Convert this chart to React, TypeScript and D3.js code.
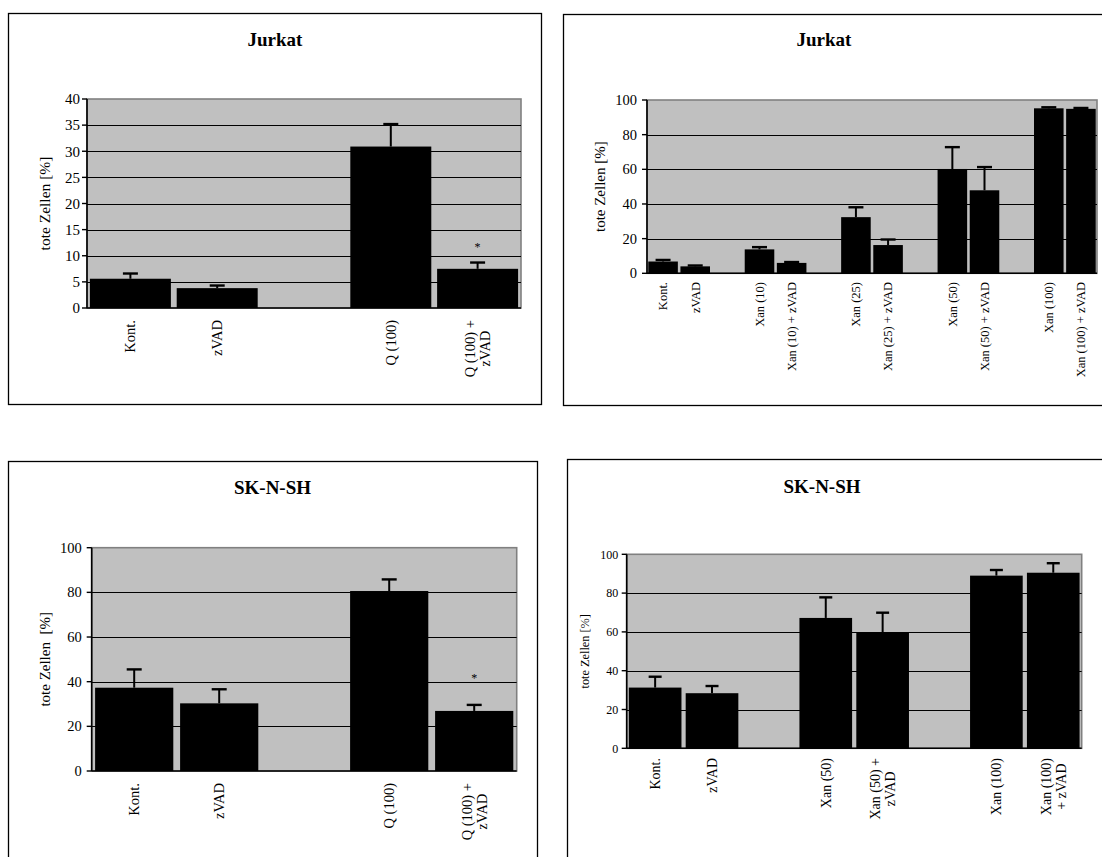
import React from 'react';
import * as d3 from 'd3';

const FONT = "'Liberation Serif', Tinos, 'Times New Roman', 'Nimbus Roman', 'DejaVu Serif', serif";

// ---------- DATA ----------
const jurkatQCategories = ["Kont.", "zVAD", "", "Q (100)", "Q (100) +\nzVAD"];
const jurkatQValues = [5.6, 3.8, null, 30.9, 7.5];
const jurkatQErrors = [1.0, 0.5, null, 4.3, 1.2];
const jurkatQStars = [null, null, null, null, 11.9];
const jurkatQTicks = [0, 5, 10, 15, 20, 25, 30, 35, 40];

const jurkatXanCategories = [
  "Kont.", "zVAD", "",
  "Xan (10)", "Xan (10) + zVAD", "",
  "Xan (25)", "Xan (25) + zVAD", "",
  "Xan (50)", "Xan (50) + zVAD", "",
  "Xan (100)", "Xan (100) + zVAD",
];
const jurkatXanValues = [6.8, 4.0, null, 13.8, 6.0, null, 32.4, 16.3, null, 60.2, 47.9, null, 95.2, 94.9];
const jurkatXanErrors = [0.9, 0.5, null, 1.3, 0.5, null, 5.7, 3.2, null, 12.6, 13.4, null, 0.6, 0.5];
const jurkatXanStars = jurkatXanValues.map(() => null);
const jurkatXanTicks = [0, 20, 40, 60, 80, 100];

const skQCategories = ["Kont.", "zVAD", "", "Q (100)", "Q (100) +\nzVAD"];
const skQValues = [37.3, 30.3, null, 80.6, 26.9];
const skQErrors = [8.2, 6.3, null, 5.2, 2.7];
const skQStars = [null, null, null, null, 42.2];
const skQTicks = [0, 20, 40, 60, 80, 100];

const skXanCategories = ["Kont.", "zVAD", "", "Xan (50)", "Xan (50) +\nzVAD", "", "Xan (100)", "Xan (100)\n+ zVAD"];
const skXanValues = [31.3, 28.4, null, 67.2, 59.8, null, 89.0, 90.5];
const skXanErrors = [5.6, 3.7, null, 10.6, 10.1, null, 2.9, 4.9];
const skXanStars = skXanValues.map(() => null);
const skXanTicks = [0, 20, 40, 60, 80, 100];

// ---------- LAYOUT ----------
type PanelCfg = {
  title: string;
  yLabel: string;
  categories: string[];
  values: (number | null)[];
  errors: (number | null)[];
  stars: (number | null)[];
  ticks: number[];
  frame: { x1: number; y1: number; x2: number; y2: number };
  plot: { x0: number; x1: number; yTop: number; yBot: number };
  titleX: number; titleY: number; titleSize: number;
  tickSize: number; tickGap: number;
  yLabelSize: number; yLabelX: number;
  catSize: number; catTop: number; catLine: number;
  barRatio: number; capW: number;
};

const panels: PanelCfg[] = [
  {
    title: "Jurkat", yLabel: "tote Zellen [%]",
    categories: jurkatQCategories, values: jurkatQValues, errors: jurkatQErrors, stars: jurkatQStars, ticks: jurkatQTicks,
    frame: { x1: 8.5, y1: 13.5, x2: 541.5, y2: 404.5 },
    plot: { x0: 87, x1: 521, yTop: 99, yBot: 308 },
    titleX: 275, titleY: 46, titleSize: 19,
    tickSize: 15, tickGap: 7,
    yLabelSize: 15.5, yLabelX: 45,
    catSize: 14.5, catTop: 320, catLine: 15,
    barRatio: 0.933, capW: 15,
  },
  {
    title: "Jurkat", yLabel: "tote Zellen [%]",
    categories: jurkatXanCategories, values: jurkatXanValues, errors: jurkatXanErrors, stars: jurkatXanStars, ticks: jurkatXanTicks,
    frame: { x1: 563.5, y1: 14.5, x2: 1130, y2: 405.5 },
    plot: { x0: 647, x1: 1097, yTop: 100, yBot: 273.3 },
    titleX: 824, titleY: 46, titleSize: 19,
    tickSize: 14.5, tickGap: 10,
    yLabelSize: 15, yLabelX: 600,
    catSize: 12.5, catTop: 282, catLine: 13,
    barRatio: 0.92, capW: 15,
  },
  {
    title: "SK-N-SH", yLabel: "tote Zellen\u00a0 [%]",
    categories: skQCategories, values: skQValues, errors: skQErrors, stars: skQStars, ticks: skQTicks,
    frame: { x1: 8.5, y1: 461.5, x2: 537.5, y2: 900 },
    plot: { x0: 91.7, x1: 516.7, yTop: 547.7, yBot: 771 },
    titleX: 272.5, titleY: 494, titleSize: 19,
    tickSize: 14.5, tickGap: 10,
    yLabelSize: 15, yLabelX: 45,
    catSize: 14.5, catTop: 783, catLine: 15,
    barRatio: 0.92, capW: 15,
  },
  {
    title: "SK-N-SH", yLabel: "tote Zellen [%]",
    categories: skXanCategories, values: skXanValues, errors: skXanErrors, stars: skXanStars, ticks: skXanTicks,
    frame: { x1: 567.5, y1: 459.5, x2: 1130, y2: 900 },
    plot: { x0: 626.7, x1: 1081.7, yTop: 554.3, yBot: 748.3 },
    titleX: 822, titleY: 492.7, titleSize: 19,
    tickSize: 12, tickGap: 8.4,
    yLabelSize: 12.3, yLabelX: 585,
    catSize: 14, catTop: 758, catLine: 15,
    barRatio: 0.926, capW: 13,
  },
];

let measureCtx: CanvasRenderingContext2D | null = null;
function measure(text: string, size: number): number {
  if (!measureCtx) {
    const c = document.createElement('canvas');
    measureCtx = c.getContext('2d');
  }
  if (!measureCtx) return text.length * size * 0.45;
  measureCtx.font = `${size}px ${FONT}`;
  return measureCtx.measureText(text).width;
}

function Panel({ cfg }: { cfg: PanelCfg }) {
  const { plot, frame } = cfg;
  const yMax = cfg.ticks[cfg.ticks.length - 1];
  const x = d3.scaleBand<string>()
    .domain(cfg.categories.map((_, i) => String(i)))
    .range([plot.x0, plot.x1])
    .paddingInner(0)
    .paddingOuter(0);
  const y = d3.scaleLinear().domain([0, yMax]).range([plot.yBot, plot.yTop]);
  const bw = x.bandwidth();
  const barW = bw * cfg.barRatio;

  return (
    <g style={{ fontFamily: FONT }}>
      <rect x={frame.x1} y={frame.y1} width={frame.x2 - frame.x1} height={frame.y2 - frame.y1}
        fill="white" stroke="black" strokeWidth={1.3} />
      <text x={cfg.titleX} y={cfg.titleY} textAnchor="middle" style={{ fontFamily: FONT }}
        fontWeight="bold" fontSize={cfg.titleSize}>{cfg.title}</text>

      {/* plot area */}
      <rect x={plot.x0} y={plot.yTop} width={plot.x1 - plot.x0} height={plot.yBot - plot.yTop}
        fill="#C0C0C0" stroke="#808080" strokeWidth={1.6} />
      {cfg.ticks.filter(t => t > 0 && t < yMax).map(t => (
        <line key={'g' + t} x1={plot.x0} x2={plot.x1} y1={Math.round(y(t)) + 0.5} y2={Math.round(y(t)) + 0.5}
          stroke="black" strokeWidth={1} />
      ))}

      {/* bars */}
      {cfg.values.map((v, i) => {
        if (v == null) return null;
        const cx = (x(String(i)) as number) + bw / 2;
        const e = cfg.errors[i] ?? 0;
        return (
          <g key={'b' + i}>
            <rect x={cx - barW / 2} y={y(v)} width={barW} height={plot.yBot - y(v)} fill="black" />
            {e > 0 && (
              <g stroke="black" strokeWidth={2}>
                <line x1={cx} x2={cx} y1={y(v)} y2={y(v + e)} />
                <line x1={cx - cfg.capW / 2} x2={cx + cfg.capW / 2} y1={y(v + e)} y2={y(v + e)} strokeWidth={2.4} />
              </g>
            )}
          </g>
        );
      })}

      {/* stars */}
      {cfg.stars.map((s, i) => {
        if (s == null) return null;
        const cx = (x(String(i)) as number) + bw / 2;
        return (
          <text key={'s' + i} x={cx} y={y(s) + 5.5} textAnchor="middle" fontSize={12}>*</text>
        );
      })}

      {/* axes */}
      <line x1={plot.x0} x2={plot.x0} y1={plot.yTop} y2={plot.yBot} stroke="black" strokeWidth={1.6} />
      <line x1={plot.x0} x2={plot.x1} y1={plot.yBot} y2={plot.yBot} stroke="black" strokeWidth={1.6} />
      {cfg.ticks.map(t => (
        <g key={'t' + t}>
          <line x1={plot.x0 - 5} x2={plot.x0} y1={y(t)} y2={y(t)} stroke="black" strokeWidth={1.4} />
          <text x={plot.x0 - cfg.tickGap} y={y(t)} dy="0.35em" textAnchor="end"
            fontSize={cfg.tickSize}>{t}</text>
        </g>
      ))}

      {/* y label */}
      <text transform={`translate(${cfg.yLabelX},${(plot.yTop + plot.yBot) / 2}) rotate(-90)`}
        textAnchor="middle" dy="0.35em" fontSize={cfg.yLabelSize}
        style={{ whiteSpace: 'pre' }}>{cfg.yLabel}</text>

      {/* category labels */}
      {cfg.categories.map((c, i) => {
        if (!c) return null;
        const lines = c.split('\n');
        const cx = (x(String(i)) as number) + bw / 2;
        const maxLen = Math.max(...lines.map(l => measure(l, cfg.catSize)));
        const cy = cfg.catTop + maxLen / 2;
        return (
          <text key={'c' + i} transform={`translate(${cx},${cy}) rotate(-90)`} textAnchor="middle"
            fontSize={cfg.catSize}>
            {lines.map((l, j) => (
              <tspan key={j} x={0} y={(j - (lines.length - 1) / 2) * cfg.catLine} dy="0.35em">{l}</tspan>
            ))}
          </text>
        );
      })}
    </g>
  );
}

export default function App() {
  return (
    <svg width={1102} height={857} style={{ position: 'absolute', left: 0, top: 0, background: 'white' }}>
      <rect x={0} y={0} width={1102} height={857} fill="white" />
      {panels.map((p, i) => <Panel key={i} cfg={p} />)}
    </svg>
  );
}
